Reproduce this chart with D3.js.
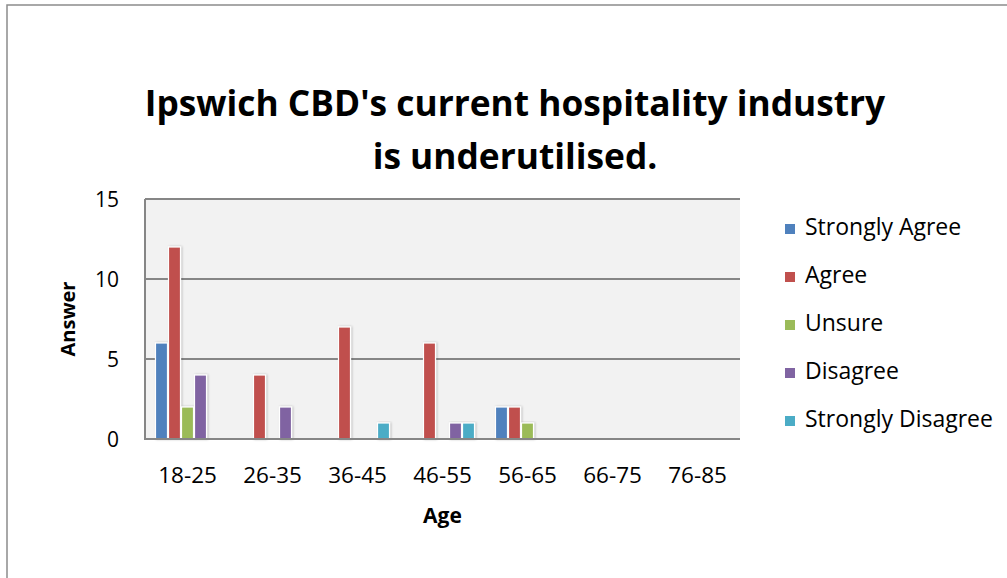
<!DOCTYPE html>
<html><head><meta charset="utf-8">
<script src="https://cdn.jsdelivr.net/npm/d3@7"></script>
<style>body{margin:0;background:#fff;}svg{display:block;font-family:"Open Sans",Lato,sans-serif;}</style>
</head><body><svg id="c" width="1007" height="578"></svg>
<script>
const categories = ["18-25","26-35","36-45","46-55","56-65","66-75","76-85"];
const seriesNames = ["Strongly Agree","Agree","Unsure","Disagree","Strongly Disagree"];
const seriesColors = ["#4f81bd","#c0504d","#9bbb59","#8064a2","#4bacc6"];
const stronglyAgree = [6,0,0,0,2,0,0];
const agree = [12,4,7,6,2,0,0];
const unsure = [2,0,0,0,1,0,0];
const disagree = [4,2,0,1,0,0,0];
const stronglyDisagree = [0,0,1,1,0,0,0];
const yTicks = [0,5,10,15];
const titleLines = ["Ipswich CBD's current hospitality industry","is underutilised."];
const series = [stronglyAgree,agree,unsure,disagree,stronglyDisagree];

const FONT = "'Open Sans',Lato,sans-serif";
const svg = d3.select("#c");
svg.append("rect").attr("x",7).attr("y",5).attr("width",1010).attr("height",600)
  .attr("fill","#fff").attr("stroke","#8c8c8c").attr("stroke-width",1.5);

const L=145,R=740,T=199,B=439;
svg.append("rect").attr("x",L).attr("y",T).attr("width",R-L).attr("height",B-T).attr("fill","#f2f2f2");

const x = d3.scaleBand().domain(categories).range([L,R]).paddingInner(0.235).paddingOuter(0.1175);
const xs = d3.scaleBand().domain(d3.range(seriesNames.length)).range([0,x.bandwidth()]);
const y = d3.scaleLinear().domain([0,15]).range([B,T]);

svg.append("g").selectAll("line").data(yTicks.filter(d=>d>0)).join("line")
  .attr("x1",L).attr("x2",R).attr("y1",d=>y(d)).attr("y2",d=>y(d))
  .attr("stroke","#868686").attr("stroke-width",2);

const defs = svg.append("defs");
const f = defs.append("filter").attr("id","sh").attr("x","-30%").attr("y","-10%").attr("width","160%").attr("height","130%");
f.append("feDropShadow").attr("dx",1).attr("dy",0).attr("stdDeviation",1.2).attr("flood-color","#000").attr("flood-opacity",0.25);

const g = svg.append("g");
series.forEach((vals,si)=>{
  g.append("g").selectAll("rect").data(vals.map((v,i)=>({v,c:categories[i]})).filter(d=>d.v>0)).join("rect")
    .attr("x",d=>x(d.c)+xs(si)+0.5).attr("width",xs.bandwidth()-1)
    .attr("y",d=>y(d.v)).attr("height",d=>B-y(d.v))
    .attr("fill",seriesColors[si]).attr("stroke","#fff").attr("stroke-width",1.2)
    .attr("filter","url(#sh)");
});

svg.append("line").attr("x1",L).attr("x2",L).attr("y1",T).attr("y2",B+1).attr("stroke","#868686").attr("stroke-width",2);
svg.append("line").attr("x1",L-1).attr("x2",R).attr("y1",B).attr("y2",B).attr("stroke","#868686").attr("stroke-width",2);

const ya = d3.axisLeft(y).tickValues(yTicks).tickSize(0).tickPadding(0);
const yg = svg.append("g").attr("transform",`translate(${L-26},0)`).call(ya);
yg.select(".domain").remove();
yg.selectAll("text").attr("font-size",21).attr("fill","#000").attr("font-family",FONT).attr("dy","0.35em");

const xa = d3.axisBottom(x).tickSize(0).tickPadding(0);
const xg = svg.append("g").attr("transform",`translate(0,${B+36})`).call(xa);
xg.select(".domain").remove();
xg.selectAll("text").attr("font-size",22.5).attr("fill","#000").attr("font-family",FONT).attr("dy","0.35em");

svg.append("text").attr("x",(L+R)/2).attr("y",517).attr("text-anchor","middle").attr("dominant-baseline","middle")
  .attr("font-size",21).attr("font-weight","bold").text("Age");
svg.append("text").attr("transform","translate(70,319) rotate(-90)").attr("text-anchor","middle").attr("dominant-baseline","middle")
  .attr("font-size",20).attr("font-weight","bold").text("Answer");

svg.append("g").selectAll("text").data(titleLines).join("text")
  .attr("x",515).attr("y",(d,i)=>107+i*53).attr("text-anchor","middle").attr("dominant-baseline","middle")
  .attr("font-size",35.3).attr("font-weight","bold").text(d=>d);

const lg = svg.append("g").selectAll("g").data(seriesNames).join("g")
  .attr("transform",(d,i)=>`translate(785,${229+i*48})`);
lg.append("rect").attr("x",0).attr("y",-5).attr("width",10).attr("height",10).attr("fill",(d,i)=>seriesColors[i]);
lg.append("text").attr("x",20).attr("y",0).attr("dominant-baseline","middle").attr("font-size",23).text(d=>d);
</script></body></html>
